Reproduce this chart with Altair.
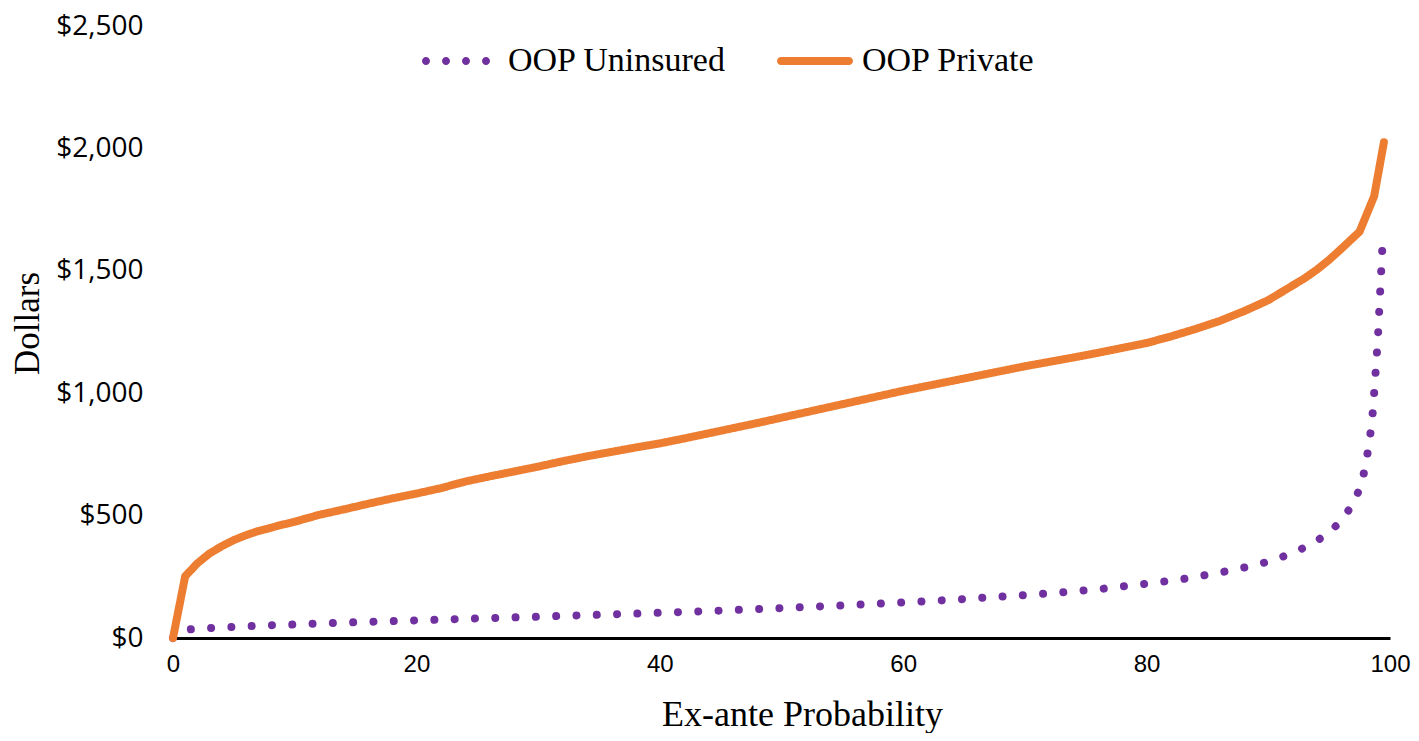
import altair as alt
import pandas as pd

# ---- data ----
x_uninsured = [0, 1, 2, 4, 6, 8, 10, 12, 14, 16, 18, 20, 22, 25, 30, 35, 40, 45, 50, 55, 60,
               64, 68, 72, 76, 80, 83, 86, 89, 90.5, 92, 93.5, 95, 96, 97, 97.7, 98, 98.3,
               98.6, 99, 99.4]
oop_uninsured = [0, 33, 38, 43, 48, 52, 55, 59, 63, 66, 69, 72, 75, 80, 87, 95, 103, 112, 122,
                 133, 145, 156, 169, 182, 199, 222, 241, 267, 298, 320, 347, 382, 430, 480,
                 550, 634, 713, 794, 930, 1220, 1625]

x_private = [0, 1, 2, 3, 4, 5, 6, 7, 8, 9, 10, 12, 14, 16, 18, 20, 22, 24, 26, 28, 30, 32, 34,
             36, 38, 40, 42, 44, 46, 48, 50, 52, 54, 56, 58, 60, 62, 64, 66, 68, 70, 72, 74,
             76, 78, 80, 82, 84, 86, 88, 90, 91, 92, 93, 94, 95, 96, 97.5, 98.7, 99.5]
oop_private = [0, 252, 305, 345, 375, 400, 420, 437, 450, 463, 475, 503, 525, 548, 570, 590,
               612, 639, 660, 680, 700, 722, 742, 760, 778, 795, 815, 836, 857, 878, 900, 922,
               944, 966, 988, 1010, 1030, 1050, 1070, 1090, 1110, 1128, 1146, 1165, 1185, 1205,
               1232, 1262, 1295, 1335, 1380, 1410, 1440, 1470, 1505, 1545, 1590, 1660, 1805,
               2025]

series_names = ["OOP Uninsured", "OOP Private"]
series_colors = ["#7030A0", "#ED7D31"]
series_dashes = [[0.01, 20.3], [1, 0]]
x_ticks = [0, 20, 40, 60, 80, 100]
y_ticks = [0, 500, 1000, 1500, 2000, 2500]

# legend glyphs (unit-square SVG paths): a row of four dots, and a thick rounded bar
def _dot(cx, r=0.1):
    return f"M{cx - r},0 A{r},{r} 0 1,0 {cx + r},0 A{r},{r} 0 1,0 {cx - r},0 Z"

legend_shapes = [
    " ".join(_dot(c) for c in (-0.875, -0.375, 0.125, 0.625)),
    "M-0.85,-0.1 L0.85,-0.1 A0.1,0.1 0 0,1 0.85,0.1 L-0.85,0.1 A0.1,0.1 0 0,1 -0.85,-0.1 Z",
]

df = pd.concat([
    pd.DataFrame({"x": x_uninsured, "value": oop_uninsured, "series": series_names[0]}),
    pd.DataFrame({"x": x_private, "value": oop_private, "series": series_names[1]}),
], ignore_index=True)

legend = alt.Legend(
    title=None, orient="none", legendX=247, legendY=-6, direction="horizontal",
    labelFont="Liberation Serif", labelFontSize=34, labelColor="black", labelLimit=0,
    symbolSize=6400, labelOffset=6, columnPadding=47, padding=0,
)

color_scale = alt.Scale(domain=series_names, range=series_colors)

x = alt.X("x:Q", scale=alt.Scale(domain=[0, 100], nice=False),
          axis=alt.Axis(values=x_ticks, title="Ex-ante Probability", grid=False, ticks=False,
                        domainColor="black", domainWidth=3,
                        labelFont="Liberation Sans", labelFontSize=24, labelColor="black",
                        labelPadding=14, labelFlush=False,
                        titleFont="Liberation Serif", titleFontSize=36, titleFontWeight="normal",
                        titleColor="black", titleX=629, titleY=87, titleBaseline="alphabetic"))
y = alt.Y("value:Q", scale=alt.Scale(domain=[0, 2500], nice=False),
          axis=alt.Axis(values=y_ticks, format="$,.0f", title="Dollars", grid=False, ticks=False,
                        domain=False,
                        labelFont="Open Sans", labelFontSize=28, labelColor="black",
                        labelPadding=30,
                        titleFont="Liberation Serif", titleFontSize=35, titleFontWeight="normal",
                        titleColor="black", titleX=-135, titleY=297, titleBaseline="alphabetic",
                        titleAngle=270))

lines = alt.Chart(df).mark_line(strokeWidth=8, strokeCap="round", strokeJoin="round").encode(
    x=x, y=y,
    color=alt.Color("series:N", scale=color_scale, legend=None),
    strokeDash=alt.StrokeDash("series:N",
                              scale=alt.Scale(domain=series_names, range=series_dashes),
                              legend=None),
)

# empty point layer that only carries the legend (colour + glyph per series)
legend_layer = alt.Chart(df).mark_point(filled=True, size=6400, opacity=1).encode(
    x=x, y=y,
    color=alt.Color("series:N", scale=color_scale, legend=legend),
    shape=alt.Shape("series:N", scale=alt.Scale(domain=series_names, range=legend_shapes),
                    legend=legend),
).transform_filter("false")

chart = alt.layer(
    lines.transform_filter(alt.datum.series == series_names[0]),
    lines.transform_filter(alt.datum.series == series_names[1]),
    legend_layer,
).resolve_scale(color="independent", shape="independent").properties(
    width=1217, height=612,
    autosize=alt.AutoSizeParams(type="none"),
    padding={"left": 165, "top": 18, "right": 21, "bottom": 95},
).configure_view(stroke=None)

chart.save("out.html", embed_options={"renderer": "svg", "actions": False})
